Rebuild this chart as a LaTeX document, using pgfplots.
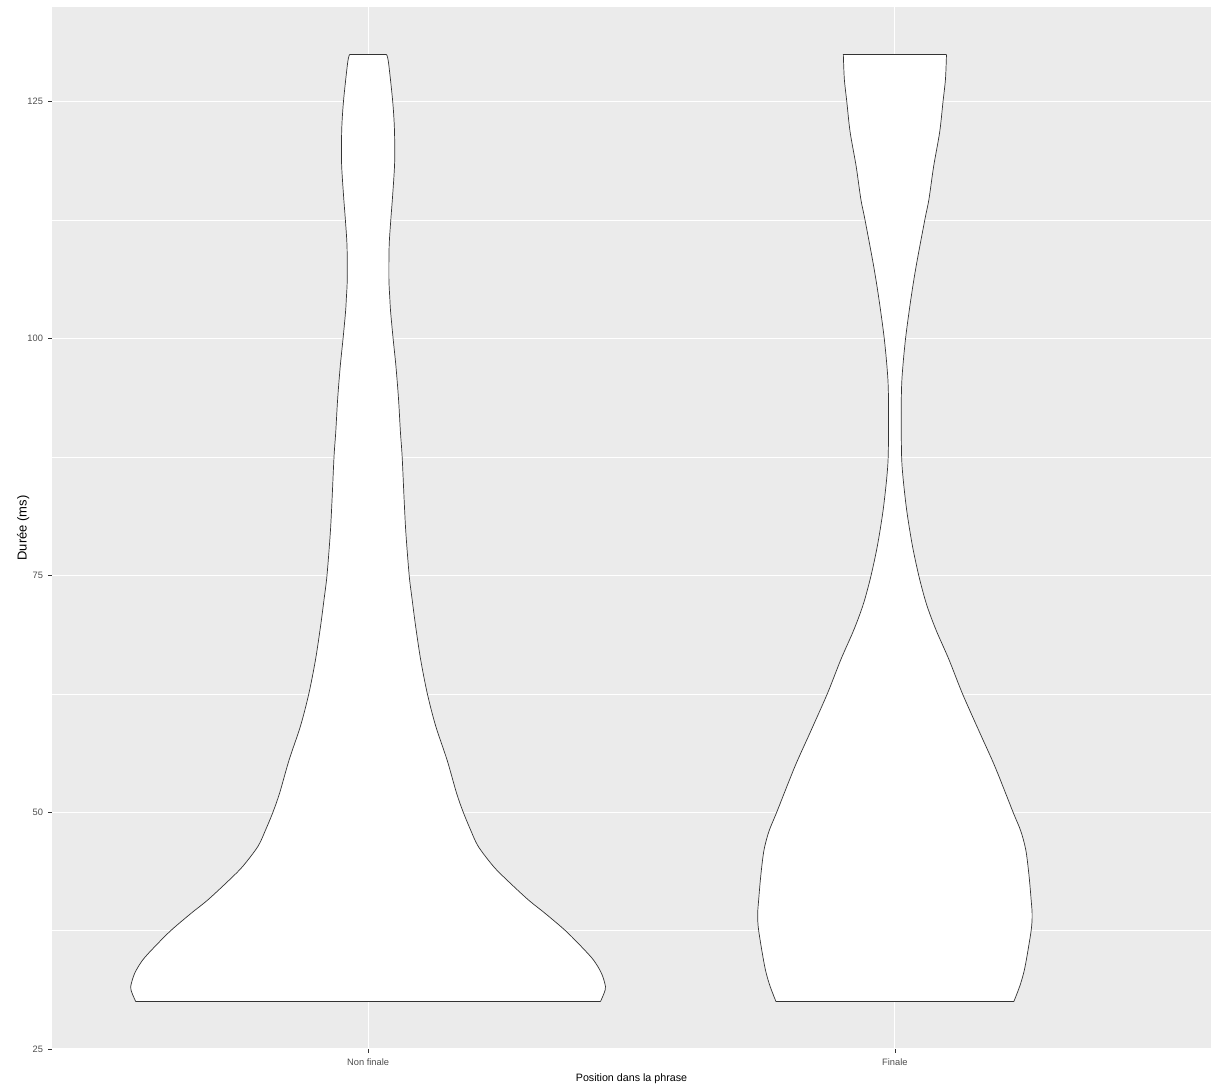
\documentclass[border=0pt]{standalone}
\usepackage{fontspec}
\setmainfont{Liberation Sans}
\usepackage{pgfplots}
\pgfplotsset{compat=1.18}
\definecolor{panelbg}{HTML}{EBEBEB}
\definecolor{tickcol}{HTML}{333333}
\definecolor{ticklab}{HTML}{4D4D4D}
\begin{document}
\begin{tikzpicture}
\useasboundingbox (-52pt,-36pt) rectangle (1170pt,1049pt);
\begin{axis}[
  scale only axis, width=1159pt, height=1042pt,
  at={(0pt,0pt)}, anchor=south west,
  xmin=0.4, xmax=2.6, ymin=25, ymax=135,
  axis background/.style={fill=panelbg},
  axis line style={draw=none},
  xtick={1,2}, xticklabels={Non finale, Finale},
  ytick={25,50,75,100,125},
  minor ytick={37.5,62.5,87.5,112.5},
  grid=both,
  major grid style={white, line width=1.1pt},
  minor grid style={white, line width=0.55pt},
  tick align=outside, major tick length=3.5pt, minor tick length=0pt,
  tick style={tickcol, line width=0.8pt},
  tick pos=left,
  ticklabel style={font=\fontsize{9.3}{11}\selectfont, text=ticklab},
  yticklabel style={inner sep=0pt, anchor=east, xshift=-5.3pt},
  xticklabel style={inner sep=0pt, anchor=north, yshift=-6pt},
  /pgf/number format/assume math mode=true,
  xlabel={Position dans la phrase},
  ylabel={Durée (ms)},
  xlabel style={font=\fontsize{10.7}{12}\selectfont, at={(axis description cs:0.5,-0.0287)}, anchor=center},
  ylabel style={font=\fontsize{13}{15}\selectfont, at={(axis description cs:-0.0248,0.5)}, anchor=center},
  outline/.style={draw=tickcol, line width=0.7pt, smooth, tension=0.5, forget plot},
]
% ---------- Non finale (centre 1) ----------
\addplot[fill=white, draw=none] coordinates {
(1.441,30.0) (1.448,30.9) (1.4506,31.6) (1.443,33.0) (1.4278,34.4) (1.405,35.8) (1.3745,37.5) (1.3365,39.3) (1.304,40.75) (1.2624,42.9) (1.2376,44.3) (1.209,46.4) (1.194,48.2) (1.1806,50.0) (1.168,52.0) (1.150,55.5) (1.1283,59.1) (1.1125,62.5) (1.0998,66.1) (1.0903,69.6) (1.0835,72.5) (1.0780,75.0) (1.0717,79.5) (1.0684,83.0) (1.0646,87.6) (1.0614,90.1) (1.0578,93.6) (1.0528,97.1) (1.0475,100.0) (1.0428,102.8) (1.0413,104.2) (1.0395,106.3) (1.040,109.8) (1.0432,112.6) (1.0466,115.1) (1.0504,118.6) (1.050,122.1) (1.0466,125.1) (1.0386,129.2) (1.0348,130.0)
(0.9652,130.0) (0.9614,129.2) (0.9534,125.1) (0.950,122.1) (0.9496,118.6) (0.9534,115.1) (0.9568,112.6) (0.960,109.8) (0.9605,106.3) (0.9587,104.2) (0.9572,102.8) (0.9525,100.0) (0.9472,97.1) (0.9422,93.6) (0.9386,90.1) (0.9354,87.6) (0.9316,83.0) (0.9283,79.5) (0.9220,75.0) (0.9165,72.5) (0.9097,69.6) (0.9002,66.1) (0.8875,62.5) (0.8717,59.1) (0.850,55.5) (0.832,52.0) (0.8194,50.0) (0.806,48.2) (0.791,46.4) (0.7624,44.3) (0.7376,42.9) (0.696,40.75) (0.6635,39.3) (0.6255,37.5) (0.595,35.8) (0.5722,34.4) (0.557,33.0) (0.5494,31.6) (0.552,30.9) (0.559,30.0)
} -- cycle;
\addplot[outline] coordinates {
(1.441,30.0) (1.448,30.9) (1.4506,31.6) (1.443,33.0) (1.4278,34.4) (1.405,35.8) (1.3745,37.5) (1.3365,39.3) (1.304,40.75) (1.2624,42.9) (1.2376,44.3) (1.209,46.4) (1.194,48.2) (1.1806,50.0) (1.168,52.0) (1.150,55.5) (1.1283,59.1) (1.1125,62.5) (1.0998,66.1) (1.0903,69.6) (1.0835,72.5) (1.0780,75.0) (1.0717,79.5) (1.0684,83.0) (1.0646,87.6) (1.0614,90.1) (1.0578,93.6) (1.0528,97.1) (1.0475,100.0) (1.0428,102.8) (1.0413,104.2) (1.0395,106.3) (1.040,109.8) (1.0432,112.6) (1.0466,115.1) (1.0504,118.6) (1.050,122.1) (1.0466,125.1) (1.0386,129.2) (1.0348,130.0)};
\addplot[outline] coordinates {
(0.9652,130.0) (0.9614,129.2) (0.9534,125.1) (0.950,122.1) (0.9496,118.6) (0.9534,115.1) (0.9568,112.6) (0.960,109.8) (0.9605,106.3) (0.9587,104.2) (0.9572,102.8) (0.9525,100.0) (0.9472,97.1) (0.9422,93.6) (0.9386,90.1) (0.9354,87.6) (0.9316,83.0) (0.9283,79.5) (0.9220,75.0) (0.9165,72.5) (0.9097,69.6) (0.9002,66.1) (0.8875,62.5) (0.8717,59.1) (0.850,55.5) (0.832,52.0) (0.8194,50.0) (0.806,48.2) (0.791,46.4) (0.7624,44.3) (0.7376,42.9) (0.696,40.75) (0.6635,39.3) (0.6255,37.5) (0.595,35.8) (0.5722,34.4) (0.557,33.0) (0.5494,31.6) (0.552,30.9) (0.559,30.0)};
\addplot[draw=tickcol, line width=0.7pt, forget plot] coordinates {(0.9652,130.0) (1.0348,130.0)};
\addplot[draw=tickcol, line width=0.7pt, forget plot] coordinates {(0.559,30.0) (1.441,30.0)};
% ---------- Finale (centre 2) ----------
\addplot[fill=white, draw=none] coordinates {
(2.2257,30.0) (2.2380,31.8) (2.2471,33.7) (2.2586,37.5) (2.2605,39.2) (2.2586,40.75) (2.2544,43.4) (2.2485,46.0) (2.239,48.0) (2.2243,50.0) (2.190,54.8) (2.161,58.4) (2.1283,62.5) (2.1027,66.1) (2.0798,69.0) (2.0665,70.9) (2.057,72.5) (2.0452,75.0) (2.0333,78.1) (2.0228,81.7) (2.0158,85.1) (2.0127,87.6) (2.012,92.2) (2.0133,95.7) (2.020,99.9) (2.0304,104.2) (2.0405,107.7) (2.057,112.6) (2.0646,114.7) (2.0736,118.2) (2.085,121.8) (2.0913,125.0) (2.096,127.4) (2.0979,130.0)
(1.9021,130.0) (1.904,127.4) (1.9087,125.0) (1.915,121.8) (1.9264,118.2) (1.9354,114.7) (1.943,112.6) (1.9595,107.7) (1.9696,104.2) (1.980,99.9) (1.9867,95.7) (1.988,92.2) (1.9873,87.6) (1.9842,85.1) (1.9772,81.7) (1.9667,78.1) (1.9548,75.0) (1.943,72.5) (1.9335,70.9) (1.9202,69.0) (1.8973,66.1) (1.8717,62.5) (1.839,58.4) (1.810,54.8) (1.7757,50.0) (1.761,48.0) (1.7515,46.0) (1.7456,43.4) (1.7414,40.75) (1.7395,39.2) (1.7414,37.5) (1.7529,33.7) (1.7620,31.8) (1.7743,30.0)
} -- cycle;
\addplot[outline] coordinates {
(2.2257,30.0) (2.2380,31.8) (2.2471,33.7) (2.2586,37.5) (2.2605,39.2) (2.2586,40.75) (2.2544,43.4) (2.2485,46.0) (2.239,48.0) (2.2243,50.0) (2.190,54.8) (2.161,58.4) (2.1283,62.5) (2.1027,66.1) (2.0798,69.0) (2.0665,70.9) (2.057,72.5) (2.0452,75.0) (2.0333,78.1) (2.0228,81.7) (2.0158,85.1) (2.0127,87.6) (2.012,92.2) (2.0133,95.7) (2.020,99.9) (2.0304,104.2) (2.0405,107.7) (2.057,112.6) (2.0646,114.7) (2.0736,118.2) (2.085,121.8) (2.0913,125.0) (2.096,127.4) (2.0979,130.0)};
\addplot[outline] coordinates {
(1.9021,130.0) (1.904,127.4) (1.9087,125.0) (1.915,121.8) (1.9264,118.2) (1.9354,114.7) (1.943,112.6) (1.9595,107.7) (1.9696,104.2) (1.980,99.9) (1.9867,95.7) (1.988,92.2) (1.9873,87.6) (1.9842,85.1) (1.9772,81.7) (1.9667,78.1) (1.9548,75.0) (1.943,72.5) (1.9335,70.9) (1.9202,69.0) (1.8973,66.1) (1.8717,62.5) (1.839,58.4) (1.810,54.8) (1.7757,50.0) (1.761,48.0) (1.7515,46.0) (1.7456,43.4) (1.7414,40.75) (1.7395,39.2) (1.7414,37.5) (1.7529,33.7) (1.7620,31.8) (1.7743,30.0)};
\addplot[draw=tickcol, line width=0.7pt, forget plot] coordinates {(1.9021,130.0) (2.0979,130.0)};
\addplot[draw=tickcol, line width=0.7pt, forget plot] coordinates {(1.7743,30.0) (2.2257,30.0)};
\end{axis}
\end{tikzpicture}
\end{document}
